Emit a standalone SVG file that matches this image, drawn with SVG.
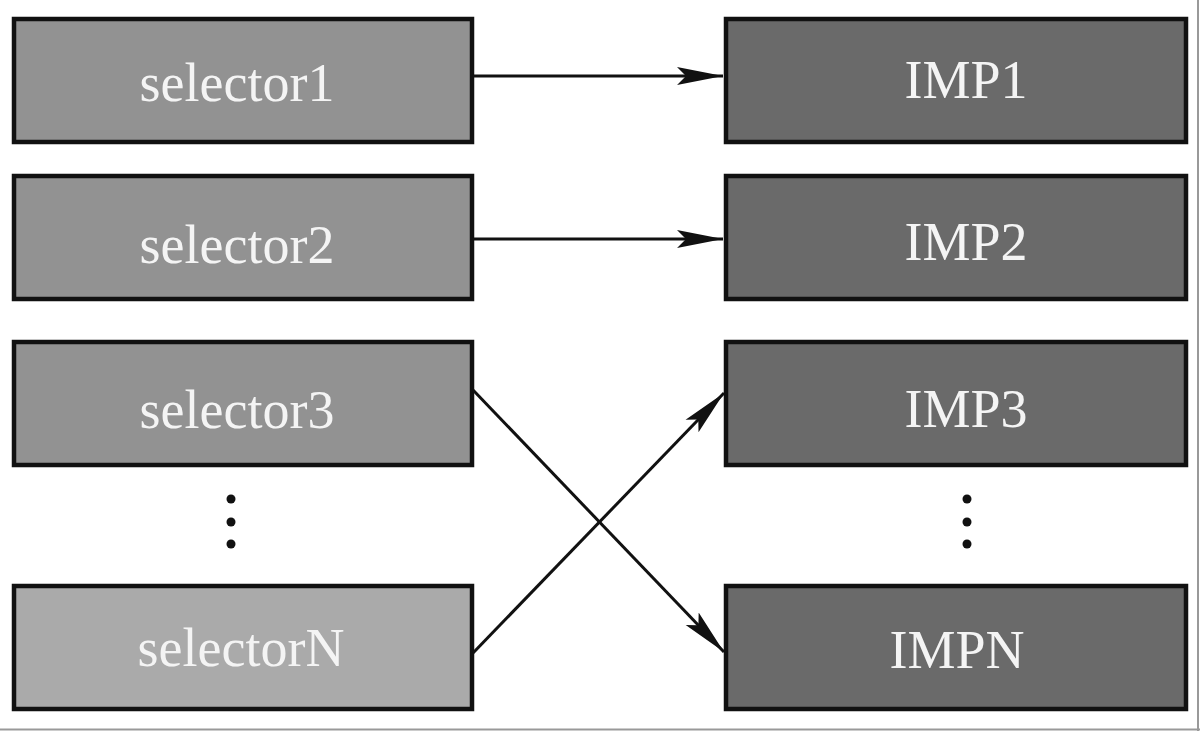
<svg xmlns="http://www.w3.org/2000/svg" width="1200" height="731" viewBox="0 0 1200 731">
<style>
.box{stroke:#111;stroke-width:4.5}
.sel{fill:#929292}
.seln{fill:#aaaaaa}
.imp{fill:#6a6a6a}
.lbl{font-family:"Liberation Serif","Times New Roman",serif;font-size:54px;fill:#f4f4f4;text-anchor:middle}
.conn{stroke:#111;stroke-width:3;fill:none;marker-end:url(#ah)}
.dot{fill:#111}
</style>
<defs>
<marker id="ah" markerUnits="userSpaceOnUse" markerWidth="48" markerHeight="24" viewBox="0 0 48 24" refX="46" refY="12" orient="auto">
<path d="M0,3 L46,12 L0,21 L9,12 Z" fill="#111"/>
</marker>
</defs>
<rect width="1200" height="731" fill="#ffffff"/>
<line x1="1198" y1="0" x2="1198" y2="731" stroke="#999" stroke-width="2"/>
<line x1="0" y1="729.5" x2="1200" y2="729.5" stroke="#999" stroke-width="2"/>
<g id="selector1"><rect class="box sel" x="14" y="19" width="458" height="123"/><text class="lbl" x="237" y="101">selector1</text></g>
<g id="selector2"><rect class="box sel" x="14" y="176" width="458" height="123"/><text class="lbl" x="237" y="263">selector2</text></g>
<g id="selector3"><rect class="box sel" x="14" y="342" width="458" height="123"/><text class="lbl" x="237" y="428">selector3</text></g>
<g id="selectorN"><rect class="box seln" x="14" y="586" width="458" height="123"/><text class="lbl" x="241" y="666">selectorN</text></g>
<g id="IMP1"><rect class="box imp" x="726" y="19" width="460" height="123"/><text class="lbl" x="966" y="98">IMP1</text></g>
<g id="IMP2"><rect class="box imp" x="726" y="176" width="460" height="123"/><text class="lbl" x="966" y="260">IMP2</text></g>
<g id="IMP3"><rect class="box imp" x="726" y="342" width="460" height="123"/><text class="lbl" x="966" y="427">IMP3</text></g>
<g id="IMPN"><rect class="box imp" x="726" y="586" width="460" height="123"/><text class="lbl" x="957" y="668">IMPN</text></g>
<g id="dots-left"><circle class="dot" cx="231" cy="499" r="4.5"/><circle class="dot" cx="231" cy="522" r="4.5"/><circle class="dot" cx="231" cy="544" r="4.5"/></g>
<g id="dots-right"><circle class="dot" cx="967" cy="499" r="4.5"/><circle class="dot" cx="967" cy="522" r="4.5"/><circle class="dot" cx="967" cy="544" r="4.5"/></g>
<g id="connectors">
<line class="conn" x1="472" y1="76" x2="723" y2="76"/>
<line class="conn" x1="472" y1="239" x2="723" y2="239"/>
<line class="conn" x1="473" y1="390" x2="724" y2="652"/>
<line class="conn" x1="473" y1="653" x2="724" y2="393"/>
</g>
</svg>
